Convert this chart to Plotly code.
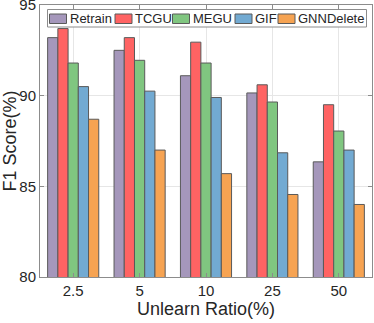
import plotly.graph_objects as go

# unlearn ratios (categories)
ratios = ["2.5", "5", "10", "25", "50"]

# F1 score (%) per method
retrain = [93.2, 92.5, 91.1, 90.15, 86.35]
tcgu = [93.7, 93.2, 92.95, 90.6, 89.5]
megu = [91.8, 91.95, 91.8, 89.65, 88.05]
gif = [90.5, 90.25, 89.9, 86.85, 87.0]
gnndelete = [88.7, 87.0, 85.7, 84.55, 84.0]

methods = ["Retrain", "TCGU", "MEGU", "GIF", "GNNDelete"]
colors = ["#A597BB", "#FF6363", "#80C680", "#72AAD2", "#F6A352"]
series = [retrain, tcgu, megu, gif, gnndelete]

W, H = 374, 323
L, R, T, B = 40, 2, 5, 46
pw, ph = W - L - R, H - T - B

def px(x):  # pixel -> paper x
    return (x - L) / pw

def py(y):  # pixel -> paper y
    return (H - B - y) / ph

fig = go.Figure()
for name, vals, col in zip(methods, series, colors):
    fig.add_trace(go.Bar(
        x=ratios, y=vals, name=name, showlegend=False,
        marker=dict(color=col, line=dict(color="#5a5a5a", width=1)),
    ))

axis_style = dict(
    showline=True, linecolor="#8c8c8c", linewidth=1, mirror="ticks",
    ticks="inside", ticklen=4, tickcolor="#8c8c8c",
    showgrid=True, gridcolor="#e6e6e6", gridwidth=1,
    tickfont=dict(family="Liberation Sans", size=15, color="#262626"),
    automargin=False, zeroline=False, ticklabeloverflow="allow",
)

# legend drawn by hand so the swatches look like the original (wide boxes)
shapes = [dict(type="rect", xref="paper", yref="paper",
               x0=px(47.5), x1=px(366.5), y0=py(9.5), y1=py(27),
               line=dict(color="#8c8c8c", width=1), fillcolor="white", layer="above")]
annotations = []
swatch_x = [49.5, 115, 172.5, 235, 278]
for sx, name, col in zip(swatch_x, methods, colors):
    shapes.append(dict(type="rect", xref="paper", yref="paper",
                       x0=px(sx), x1=px(sx + 17), y0=py(14), y1=py(23.5),
                       line=dict(color="#5a5a5a", width=1), fillcolor=col, layer="above"))
    annotations.append(dict(xref="paper", yref="paper", x=px(sx + 18), y=py(18.5),
                            xanchor="left", yanchor="middle", text=name, showarrow=False,
                            font=dict(family="Liberation Sans", size=13, color="#262626")))

fig.update_layout(
    width=W, height=H,
    margin=dict(l=L, r=R, t=T, b=B),
    paper_bgcolor="white", plot_bgcolor="white",
    barmode="group", bargap=0.23, bargroupgap=0,
    font=dict(family="Liberation Sans", color="#262626"),
    shapes=shapes, annotations=annotations,
)
fig.update_xaxes(
    **axis_style,
    title=dict(text="Unlearn Ratio(%)", font=dict(size=18, color="#262626"), standoff=4),
)
fig.update_yaxes(
    **axis_style,
    range=[80, 95], tickvals=[80, 85, 90, 95],
    title=dict(text="F1 Score(%)", font=dict(size=18, color="#262626"), standoff=4),
)

# page body has a default margin; drop it so the figure sits at the window corner
fig.write_html("out.html", config={"displayModeBar": False},
               post_script="document.body.style.margin='0';")
